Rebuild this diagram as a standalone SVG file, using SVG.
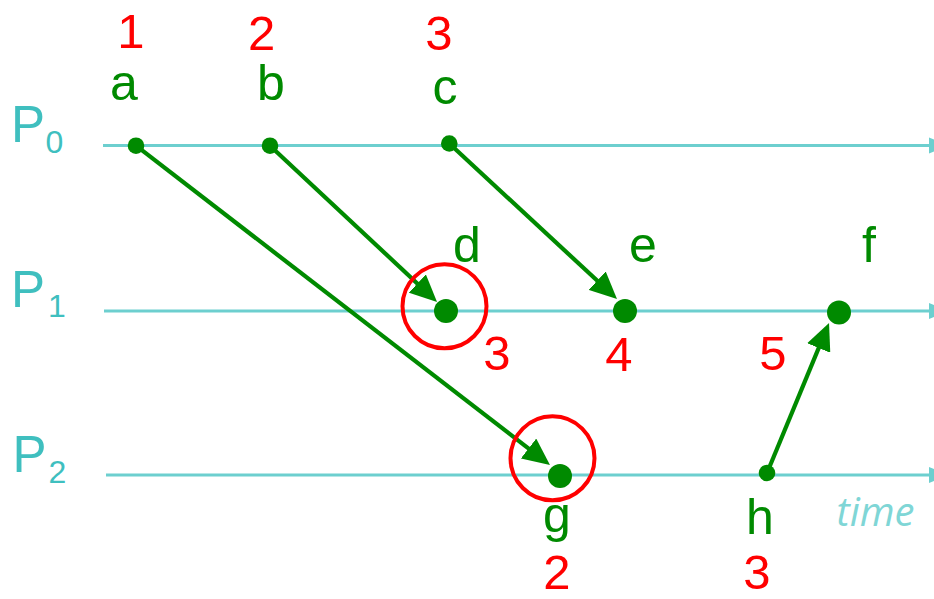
<svg xmlns="http://www.w3.org/2000/svg" width="934" height="599" viewBox="0 0 934 599">
  <style>
    .axis { stroke: #6dcfcf; stroke-width: 3; fill: none; }
    .axhead { fill: #6dcfcf; }
    .plabel { fill: #3fbfbf; font-family: "Liberation Sans", Arial, sans-serif; }
    .ev { fill: #008a00; }
    .lbl { fill: #008a00; font-family: "Liberation Sans", Arial, sans-serif; font-size: 50px; text-anchor: middle; }
    .num { fill: #ff0000; font-family: "Liberation Sans", Arial, sans-serif; font-size: 49px; text-anchor: middle; }
    .msg { stroke: #008a00; stroke-width: 4.2; fill: none; marker-end: url(#ah); }
    .ring { stroke: #ff0000; stroke-width: 4; fill: none; }
    .time { fill: #7fd6d6; font-family: "Open Sans", sans-serif; font-style: italic; font-size: 40px; text-anchor: middle; }
  </style>
  <defs>
    <marker id="ah" markerUnits="userSpaceOnUse" markerWidth="27" markerHeight="25" refX="12" refY="12.5" orient="auto" viewBox="0 0 27 25">
      <path d="M0,0 L27,12.5 L0,25 z" fill="#008a00"/>
    </marker>
  </defs>

  <g id="process-P0">
    <line class="axis" x1="103" y1="145.5" x2="931" y2="145.5"/>
    <polygon class="axhead" points="929,137.5 949,145.5 929,153.5"/>
    <text class="plabel" x="11" y="141.7" font-size="51">P</text>
    <text class="plabel" x="54.5" y="153.3" font-size="32" text-anchor="middle">0</text>
  </g>
  <g id="process-P1">
    <line class="axis" x1="104" y1="311" x2="931" y2="311"/>
    <polygon class="axhead" points="929,303 949,311 929,319"/>
    <text class="plabel" x="11" y="306.7" font-size="51">P</text>
    <text class="plabel" x="57" y="317.3" font-size="32" text-anchor="middle">1</text>
  </g>
  <g id="process-P2">
    <line class="axis" x1="106" y1="475" x2="931" y2="475"/>
    <polygon class="axhead" points="929,467 949,475 929,483"/>
    <text class="plabel" x="12.5" y="471.7" font-size="51">P</text>
    <text class="plabel" x="57.5" y="482.7" font-size="32" text-anchor="middle">2</text>
    <text class="time" x="875.5" y="526">time</text>
  </g>

  <g id="connectors">
    <line class="msg" x1="136" y1="145.7" x2="538.1" y2="455.8"/>
    <line class="msg" x1="270" y1="145.7" x2="426.1" y2="291.7"/>
    <line class="msg" x1="449.3" y1="143.5" x2="606" y2="288.8"/>
    <line class="msg" x1="767" y1="473" x2="823.3" y2="336.9"/>
  </g>

  <g id="event-a">
    <circle class="ev" cx="136" cy="145.7" r="8.3"/>
    <text class="lbl" x="124" y="100">a</text>
    <text class="num" x="131" y="48" font-size="51">1</text>
  </g>
  <g id="event-b">
    <circle class="ev" cx="270" cy="145.7" r="8.3"/>
    <text class="lbl" x="271" y="100">b</text>
    <text class="num" x="261.7" y="50" font-size="51">2</text>
  </g>
  <g id="event-c">
    <circle class="ev" cx="449.3" cy="143.5" r="8.3"/>
    <text class="lbl" x="445" y="104">c</text>
    <text class="num" x="439" y="50" font-size="51">3</text>
  </g>
  <g id="event-d">
    <circle class="ev" cx="446" cy="311" r="12"/>
    <circle class="ring" cx="444.5" cy="306.3" r="42"/>
    <text class="lbl" x="467" y="262">d</text>
    <text class="num" x="497" y="370">3</text>
  </g>
  <g id="event-e">
    <circle class="ev" cx="625" cy="311" r="12"/>
    <text class="lbl" x="643" y="262">e</text>
    <text class="num" x="619" y="371">4</text>
  </g>
  <g id="event-f">
    <circle class="ev" cx="839" cy="312.5" r="12"/>
    <text class="lbl" x="869" y="262">f</text>
    <text class="num" x="773" y="370">5</text>
  </g>
  <g id="event-g">
    <circle class="ev" cx="560" cy="476" r="12"/>
    <circle class="ring" cx="552.5" cy="458.3" r="42"/>
    <text class="lbl" x="557" y="532">g</text>
    <text class="num" x="557" y="589" font-size="46">2</text>
  </g>
  <g id="event-h">
    <circle class="ev" cx="767" cy="473" r="8.3"/>
    <text class="lbl" x="760" y="534">h</text>
    <text class="num" x="757" y="589" font-size="46">3</text>
  </g>
</svg>
